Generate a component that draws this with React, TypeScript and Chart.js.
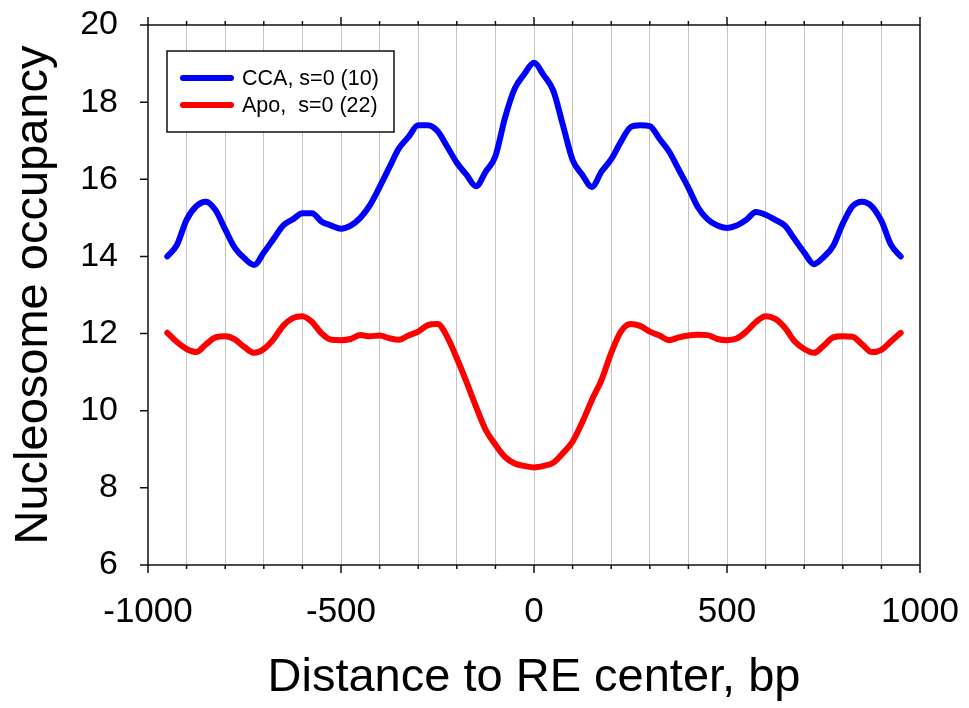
import React, { useEffect, useRef } from "react";
import { Chart, registerables } from "chart.js";

Chart.register(...registerables);

// Distance to RE center (bp)
const xPositions = [
  -950, -925, -900, -875, -850, -825, -800, -775, -750, -725, -700, -675, -650, -625, -600, -575,
  -550, -525, -500, -475, -450, -425, -400, -375, -350, -325, -300, -275, -250, -225, -200, -175,
  -150, -125, -100, -75, -50, -25, 0, 25, 50, 75, 100, 125, 150, 175, 200, 225, 250, 275, 300,
  325, 350, 375, 400, 425, 450, 475, 500, 525, 550, 575, 600, 625, 650, 675, 700, 725, 750, 775,
  800, 825, 850, 875, 900, 925, 950,
];

// CCA, s=0 (10)
const ccaValues = [
  14.0, 14.3, 14.95, 15.3, 15.42, 15.2, 14.7, 14.22, 13.95, 13.78, 14.1, 14.45, 14.8, 14.96, 15.12, 15.12,
  14.9, 14.8, 14.72, 14.8, 15.0, 15.33, 15.8, 16.3, 16.8, 17.1, 17.4, 17.4, 17.25, 16.85, 16.43, 16.12,
  15.82, 16.2, 16.6, 17.6, 18.35, 18.73, 19.02, 18.7, 18.3, 17.4, 16.5, 16.12, 15.8, 16.2, 16.52, 16.97,
  17.35, 17.4, 17.38, 17.05, 16.72, 16.25, 15.78, 15.27, 14.96, 14.8, 14.74, 14.8, 14.95, 15.15, 15.08,
  14.95, 14.8, 14.45, 14.1, 13.8, 13.98, 14.27, 14.85, 15.3, 15.42, 15.3, 14.92, 14.3, 14.0,
];

// Apo, s=0 (22)
const apoValues = [
  12.02, 11.78, 11.6, 11.52, 11.72, 11.9, 11.93, 11.85, 11.65, 11.5, 11.6, 11.85, 12.2, 12.4, 12.45, 12.3,
  12.0, 11.84, 11.83, 11.86, 11.96, 11.93, 11.95, 11.88, 11.84, 11.95, 12.05, 12.22, 12.25, 11.92, 11.36,
  10.75, 10.1, 9.5, 9.12, 8.8, 8.63, 8.57, 8.53, 8.57, 8.65, 8.9, 9.2, 9.7, 10.28, 10.8, 11.5, 12.05,
  12.25, 12.2, 12.05, 11.95, 11.83, 11.9, 11.95, 11.97, 11.96, 11.86, 11.83, 11.87, 12.05, 12.3, 12.45,
  12.38, 12.15, 11.8, 11.6, 11.5, 11.68, 11.9, 11.93, 11.92, 11.72, 11.52, 11.58, 11.8, 12.02,
];

const seriesLabels = ["CCA, s=0 (10)", "Apo,  s=0 (22)"];
const seriesColors = ["#0000ff", "#ff0000"];
const xLabeledTicks = [-1000, -500, 0, 500, 1000];
const xAxisTitle = "Distance to RE center, bp";
const yAxisTitle = "Nucleosome occupancy";

const FONT = "'Liberation Sans', Arial, Helvetica, sans-serif";

const framePlugin = {
  id: "frame",
  afterDatasetsDraw(chart: any) {
    const { ctx, chartArea, scales } = chart;
    const { left, right, top, bottom } = chartArea;
    const x = scales.x;
    const y = scales.y;
    ctx.save();
    ctx.strokeStyle = "#111";
    ctx.lineWidth = 1.5;
    ctx.strokeRect(left, top, right - left, bottom - top);
    ctx.beginPath();
    x.ticks.forEach((t: any) => {
      const px = x.getPixelForValue(t.value);
      const major = xLabeledTicks.includes(t.value);
      const len = major ? 8 : 4;
      ctx.moveTo(px, bottom);
      ctx.lineTo(px, bottom + len);
      ctx.moveTo(px, top);
      ctx.lineTo(px, top - len);
    });
    y.ticks.forEach((t: any) => {
      const py = y.getPixelForValue(t.value);
      ctx.moveTo(left - 8, py);
      ctx.lineTo(left, py);
    });
    ctx.stroke();
    ctx.restore();
  },
};

const legendPlugin = {
  id: "boxLegend",
  afterDraw(chart: any) {
    const { ctx } = chart;
    const bx = 167;
    const by = 51;
    const bw = 227;
    const bh = 81;
    ctx.save();
    ctx.fillStyle = "#fff";
    ctx.fillRect(bx, by, bw, bh);
    ctx.strokeStyle = "#111";
    ctx.lineWidth = 1.5;
    ctx.strokeRect(bx, by, bw, bh);
    const rows = [78, 105];
    chart.data.datasets.forEach((ds: any, i: number) => {
      const ry = rows[i];
      ctx.strokeStyle = ds.borderColor;
      ctx.lineWidth = 6;
      ctx.lineCap = "round";
      ctx.beginPath();
      ctx.moveTo(183, ry);
      ctx.lineTo(231, ry);
      ctx.stroke();
      ctx.fillStyle = "#000";
      ctx.font = `21.5px ${FONT}`;
      ctx.textBaseline = "middle";
      ctx.textAlign = "left";
      ctx.fillText(ds.label, 242, ry + 1);
    });
    ctx.restore();
  },
};

const zeroPad = (s: any) => {
  s.paddingLeft = 0;
  s.paddingRight = 0;
  s.paddingTop = 0;
  s.paddingBottom = 0;
};

export default function App() {
  const canvasRef = useRef<HTMLCanvasElement | null>(null);

  useEffect(() => {
    const canvas = canvasRef.current;
    if (!canvas) return;
    const mk = (vals: number[]) => xPositions.map((xv, i) => ({ x: xv, y: vals[i] }));
    const chart = new Chart(canvas, {
      type: "line",
      data: {
        datasets: [
          {
            label: seriesLabels[0],
            data: mk(ccaValues),
            borderColor: seriesColors[0],
            borderWidth: 6,
            pointRadius: 0,
            cubicInterpolationMode: "monotone",
            borderCapStyle: "round",
            borderJoinStyle: "round",
            fill: false,
          },
          {
            label: seriesLabels[1],
            data: mk(apoValues),
            borderColor: seriesColors[1],
            borderWidth: 6,
            pointRadius: 0,
            cubicInterpolationMode: "monotone",
            borderCapStyle: "round",
            borderJoinStyle: "round",
            fill: false,
          },
        ],
      },
      options: {
        animation: false,
        responsive: false,
        devicePixelRatio: 1,
        layout: { padding: { left: 0, top: 25, right: 49, bottom: 0 } },
        plugins: {
          legend: { display: false },
          tooltip: { enabled: false },
        },
        scales: {
          x: {
            type: "linear",
            min: -1000,
            max: 1000,
            afterFit: (s: any) => {
              s.height = 143;
              zeroPad(s);
            },
            ticks: {
              stepSize: 100,
              autoSkip: false,
              maxRotation: 0,
              padding: 26,
              color: "#000",
              font: { family: FONT, size: 35 },
              callback: (v: any) => (xLabeledTicks.includes(Number(v)) ? String(v) : ""),
            },
            grid: {
              drawTicks: false,
              lineWidth: 1,
              color: (c: any) =>
                c.tick && Math.abs(c.tick.value) === 1000 ? "rgba(0,0,0,0)" : "#c4c4c4",
            },
            border: { display: false },
            title: {
              display: true,
              text: xAxisTitle,
              color: "#000",
              font: { family: FONT, size: 47 },
              padding: { top: 0, bottom: 2 },
            },
          },
          y: {
            type: "linear",
            min: 6,
            max: 20,
            afterFit: (s: any) => {
              s.width = 148;
              zeroPad(s);
            },
            ticks: {
              stepSize: 2,
              padding: 30,
              color: "#000",
              font: { family: FONT, size: 34 },
            },
            grid: { display: false, drawTicks: false },
            border: { display: false },
            title: {
              display: true,
              text: yAxisTitle,
              color: "#000",
              font: { family: FONT, size: 47 },
              padding: { top: 6, bottom: 0 },
            },
          },
        },
      },
      plugins: [framePlugin, legendPlugin],
    });
    return () => chart.destroy();
  }, []);

  return (
    <div
      style={{
        position: "fixed",
        left: 0,
        top: 0,
        width: 969,
        height: 708,
        background: "#fff",
      }}
    >
      <canvas ref={canvasRef} width={969} height={708} style={{ display: "block" }} />
    </div>
  );
}
